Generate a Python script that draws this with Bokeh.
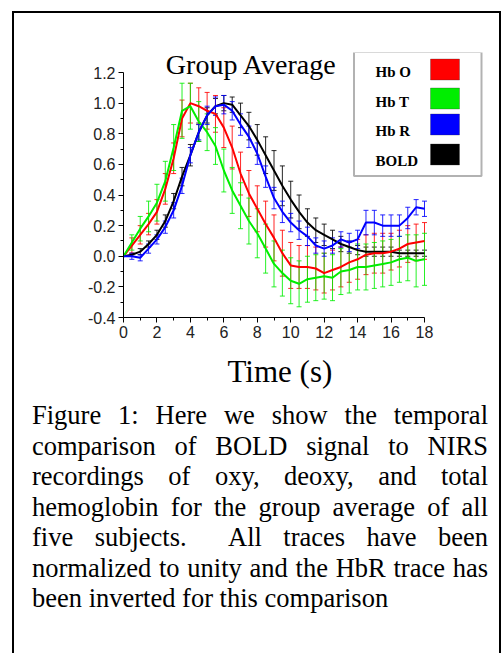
import math
from bokeh.plotting import figure
from bokeh.models import (Range1d, FixedTicker, PrintfTickFormatter, Whisker,
                          ColumnDataSource, TeeHead, BoxAnnotation, Label, Div)
from bokeh.layouts import column
from bokeh.embed import file_html
from bokeh.resources import INLINE

# ---------------- data ----------------
time_s = [0.0, 0.5, 1.0, 1.5, 2.0, 2.5, 3.0, 3.5, 4.0, 4.5, 5.0, 5.5, 6.0, 6.5,
          7.0, 7.5, 8.0, 8.5, 9.0, 9.5, 10.0, 10.5, 11.0, 11.5, 12.0, 12.5,
          13.0, 13.5, 14.0, 14.5, 15.0, 15.5, 16.0, 16.5, 17.0, 17.5, 18.0]

hbo = [0.00, 0.07, 0.14, 0.21, 0.29, 0.44, 0.64, 0.90, 1.00, 0.98, 0.95, 0.93,
       0.84, 0.71, 0.54, 0.41, 0.31, 0.21, 0.12, 0.02, -0.06, -0.07, -0.07,
       -0.08, -0.11, -0.09, -0.07, -0.04, -0.02, 0.01, 0.02, 0.02, 0.03, 0.05,
       0.08, 0.09, 0.10]
hbo_err = [0.00, 0.05, 0.06, 0.07, 0.08, 0.10, 0.10, 0.12, 0.13, 0.12, 0.12,
           0.12, 0.13, 0.14, 0.14, 0.15, 0.15, 0.15, 0.15, 0.15, 0.15, 0.14,
           0.14, 0.14, 0.13, 0.13, 0.13, 0.13, 0.13, 0.13, 0.13, 0.13, 0.12,
           0.12, 0.12, 0.12, 0.12]

hbt = [0.00, 0.09, 0.18, 0.26, 0.35, 0.49, 0.71, 0.95, 0.98, 0.88, 0.81, 0.72,
       0.56, 0.43, 0.33, 0.23, 0.15, 0.05, -0.05, -0.11, -0.16, -0.18, -0.15,
       -0.14, -0.13, -0.14, -0.10, -0.09, -0.07, -0.07, -0.06, -0.05, -0.04,
       -0.02, -0.01, -0.03, -0.02]
hbt_err = [0.00, 0.05, 0.08, 0.10, 0.12, 0.13, 0.15, 0.18, 0.15, 0.13, 0.12,
           0.12, 0.14, 0.15, 0.15, 0.15, 0.16, 0.16, 0.15, 0.15, 0.15, 0.15,
           0.15, 0.15, 0.15, 0.15, 0.15, 0.15, 0.15, 0.15, 0.15, 0.15, 0.15,
           0.15, 0.15, 0.17, 0.17]

hbr = [0.00, 0.00, -0.01, 0.05, 0.11, 0.19, 0.30, 0.46, 0.66, 0.81, 0.92, 0.98,
       0.99, 0.95, 0.86, 0.78, 0.67, 0.52, 0.38, 0.29, 0.22, 0.17, 0.13, 0.07,
       0.05, 0.07, 0.11, 0.09, 0.11, 0.22, 0.22, 0.20, 0.20, 0.20, 0.25, 0.32,
       0.31]
hbr_err = [0.00, 0.02, 0.02, 0.03, 0.03, 0.04, 0.05, 0.05, 0.05, 0.05, 0.06,
           0.06, 0.06, 0.06, 0.07, 0.07, 0.07, 0.07, 0.07, 0.07, 0.06, 0.06,
           0.06, 0.05, 0.05, 0.05, 0.05, 0.06, 0.06, 0.08, 0.08, 0.07, 0.07,
           0.07, 0.07, 0.05, 0.05]

bold = [0.00, 0.01, 0.03, 0.08, 0.14, 0.23, 0.36, 0.52, 0.66, 0.81, 0.92, 0.98,
        1.00, 0.99, 0.92, 0.85, 0.76, 0.66, 0.56, 0.46, 0.37, 0.29, 0.22, 0.17,
        0.14, 0.11, 0.08, 0.06, 0.04, 0.03, 0.03, 0.03, 0.03, 0.02, 0.02, 0.02,
        0.02]
bold_err = [0.00, 0.01, 0.02, 0.02, 0.03, 0.04, 0.05, 0.06, 0.07, 0.06, 0.05,
            0.05, 0.05, 0.05, 0.08, 0.09, 0.10, 0.12, 0.13, 0.13, 0.12, 0.11,
            0.09, 0.08, 0.07, 0.06, 0.05, 0.04, 0.03, 0.03, 0.03, 0.03, 0.03,
            0.02, 0.02, 0.02, 0.02]

series_names = ["Hb O", "Hb T", "Hb R", "BOLD"]
series_colors = ["#ff0000", "#00ee00", "#0000ff", "#000000"]

x_ticks = [0, 2, 4, 6, 8, 10, 12, 14, 16, 18]
x_minor = [1, 3, 5, 7, 9, 11, 13, 15, 17]
y_ticks = [-0.4, -0.2, 0.0, 0.2, 0.4, 0.6, 0.8, 1.0, 1.2]
y_minor = [-0.3, -0.1, 0.1, 0.3, 0.5, 0.7, 0.9, 1.1]

caption_lines = [
    "Figure 1: Here we show the temporal",
    "comparison of BOLD signal to NIRS",
    "recordings of oxy, deoxy, and total",
    "hemoglobin for the group average of all",
    "five subjects.&nbsp; All traces have been",
    "normalized to unity and the HbR trace has",
    "been inverted for this comparison",
]

# ---------------- geometry (page pixels) ----------------
ORIGIN_X, ORIGIN_Y = 14, 13          # figure top-left on the page
X0_PX, X18_PX = 123, 424              # x = 0 and x = 18
Y12_PX, YM04_PX = 72, 317             # y = 1.2 and y = -0.4
FRAME_R, FRAME_T = 484, 52            # frame extended to host title/legend
FIG_W, FIG_H = 485, 392
CAP_H = 248

sx = (X18_PX - X0_PX) / 18.0
sy = (YM04_PX - Y12_PX) / 1.6
x_end = (FRAME_R - X0_PX) / sx
y_end = 1.2 + (Y12_PX - FRAME_T) / sy


def dx(px):
    return (px - X0_PX) / sx


def dy(py):
    return 1.2 - (py - Y12_PX) / sy


p = figure(width=FIG_W, height=FIG_H, output_backend="svg", toolbar_location=None,
           x_range=Range1d(0, x_end), y_range=Range1d(-0.4, y_end),
           title="Time (s)", title_location="below",
           min_border_left=X0_PX - ORIGIN_X, min_border_top=FRAME_T - ORIGIN_Y,
           min_border_right=FIG_W - (FRAME_R - ORIGIN_X),
           min_border_bottom=FIG_H - (YM04_PX - ORIGIN_Y))
p.outline_line_color = None
p.xgrid.visible = False
p.ygrid.visible = False
p.background_fill_color = "white"
p.border_fill_color = "white"

# x-axis title: placed below the axis, left edge shifted to sit under the 0..18 span
p.title.align = "left"
p.title.offset = 227 - X0_PX
p.title.standoff = 22
p.title.text_font = "Liberation Serif"
p.title.text_font_style = "normal"
p.title.text_font_size = "31px"
p.title.text_color = "black"

for ax in (p.xaxis[0], p.yaxis[0]):
    ax.axis_line_color = "black"
    ax.axis_line_width = 1
    ax.major_tick_line_color = "black"
    ax.minor_tick_line_color = "black"
    ax.major_tick_in = 0
    ax.minor_tick_in = 0
    ax.major_tick_out = 5
    ax.minor_tick_out = 3
    ax.major_label_text_font = "Liberation Sans"
    ax.major_label_text_font_size = "16px"
    ax.major_label_text_color = "#222222"
    ax.major_label_standoff = 3

p.xaxis.bounds = (0, 18)
p.yaxis.bounds = (-0.4, 1.2)
p.xaxis.ticker = FixedTicker(ticks=x_ticks, minor_ticks=x_minor)
p.yaxis.ticker = FixedTicker(ticks=y_ticks, minor_ticks=y_minor)
p.yaxis.formatter = PrintfTickFormatter(format="%.1f")

# ---------------- series ----------------
vals = [hbo, hbt, hbr, bold]
errs = [hbo_err, hbt_err, hbr_err, bold_err]
draw_order = [3, 0, 1, 2]
for i in draw_order:
    v, e, c = vals[i], errs[i], series_colors[i]
    src = ColumnDataSource(dict(t=time_s, v=v,
                                lo=[a - b for a, b in zip(v, e)],
                                hi=[a + b for a, b in zip(v, e)]))
    w = Whisker(source=src, base="t", lower="lo", upper="hi",
                line_color=c, line_width=1, line_alpha=0.85,
                upper_head=TeeHead(size=5, line_color=c, line_width=1, line_alpha=0.85),
                lower_head=TeeHead(size=5, line_color=c, line_width=1, line_alpha=0.85))
    p.add_layout(w)
for i in draw_order:
    src = ColumnDataSource(dict(t=time_s, v=vals[i]))
    p.line("t", "v", source=src, line_color=series_colors[i], line_width=2)

# ---------------- chart title & y label ----------------
p.add_layout(Label(x=dx(251), y=dy(64), text="Group Average", text_align="center",
                   text_baseline="alphabetic", text_font="Liberation Serif",
                   text_font_size="28px", text_color="black"))
p.add_layout(Label(x=dx(65), y=dy(206), text="Normalized Change (AU)",
                   angle=math.pi / 2, text_align="center", text_baseline="middle",
                   text_font="Liberation Sans", text_font_size="18px",
                   text_color="#222222"))

# ---------------- legend (label left, swatch right) ----------------
p.add_layout(BoxAnnotation(left=dx(353.5), right=dx(481), top=dy(51.5), bottom=dy(175.5),
                           fill_alpha=0, line_color="black", line_width=2))
sw_centers = [69, 98, 124, 154]
txt_base = [71, 101, 130, 160]
for name, c, yc, yb in zip(series_names, series_colors, sw_centers, txt_base):
    p.add_layout(BoxAnnotation(left=dx(430), right=dx(459), top=dy(yc - 10.5),
                               bottom=dy(yc + 10.5), fill_color=c, fill_alpha=1,
                               line_color="#333333", line_width=1))
    p.add_layout(Label(x=dx(375), y=dy(yb), text=name, text_font="Liberation Serif",
                       text_font_style="bold", text_font_size="15px",
                       text_baseline="alphabetic", text_color="black"))

# ---------------- caption ----------------
rows = []
for k, line in enumerate(caption_lines):
    last = "left" if k == len(caption_lines) - 1 else "justify"
    rows.append(f'<div style="text-align:justify;text-align-last:{last};'
                f'white-space:nowrap;">{line}</div>')
caption_html = ('<div style="box-sizing:content-box;font-family:\'Liberation Serif\';'
                'font-size:26.5px;line-height:30.5px;color:black;width:456px;'
                'margin-top:-5px;padding:0 11px 0 18px;">' + "".join(rows) + '</div>')
cap = Div(text=caption_html, width=FIG_W, height=CAP_H, margin=0)

layout = column(p, cap, margin=(11, 0, 0, 12), spacing=0,
                styles={"border-top": "2px solid black", "border-left": "2px solid black",
                        "border-right": "2px solid black"})

open("out.html", "w").write(file_html(layout, INLINE))
